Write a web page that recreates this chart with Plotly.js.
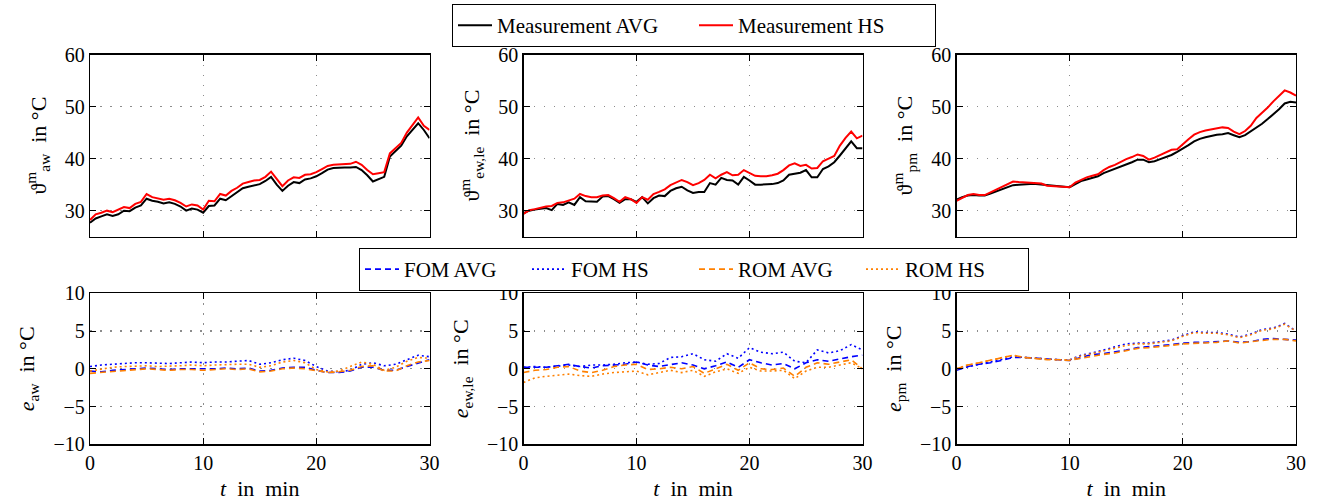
<!DOCTYPE html>
<html>
<head>
<meta charset="utf-8">
<script src="https://cdn.plot.ly/plotly-3.0.1.min.js"></script>
<style>html,body{margin:0;padding:0;background:#fff;}#chart{width:1323px;height:504px;}</style>
</head>
<body>
<div id="chart"></div>
<script>
// time axes (min)
const tMeas = [0,0.5,1,1.5,2,2.5,3,3.5,4,4.5,5,5.5,6,6.5,7,7.5,8,8.5,9,9.5,10,10.5,11,11.5,12,12.5,13,13.5,14,14.5,15,15.5,16,16.5,17,17.5,18,18.5,19,19.5,20,20.5,21,21.5,22,22.5,23,23.5,24,24.5,25,25.5,26,26.5,27,27.5,28,28.5,29,29.5,30];
const tErr = [0,1,2,3,4,5,6,7,8,9,10,11,12,13,14,15,16,17,18,19,20,21,22,23,24,25,26,27,28,29,30];

// measured temperatures (°C)
const awAvg = [27.7,28.5,28.9,29.3,29.0,29.3,30.0,29.9,30.6,31.0,32.3,31.9,31.7,31.4,31.6,31.3,30.8,30.0,30.4,30.2,29.6,30.9,31.0,32.3,32.0,32.8,33.6,34.3,34.6,34.9,35.1,35.7,36.5,35.0,33.8,34.8,35.5,35.3,36.0,36.2,36.6,37.2,37.9,38.2,38.3,38.3,38.3,38.4,37.8,36.8,35.6,36.0,36.5,40.4,41.4,42.5,44.3,45.5,46.8,45.5,43.9];
const awHs  = [28.2,29.3,29.6,30.0,29.7,30.2,30.7,30.5,31.3,31.7,33.2,32.6,32.4,32.1,32.3,32.0,31.5,30.8,31.2,31.0,30.2,31.9,31.8,33.2,32.9,33.8,34.4,35.2,35.5,35.8,35.9,36.5,37.5,36.0,34.7,35.8,36.4,36.3,36.9,37.0,37.4,38.0,38.6,38.8,38.9,39.0,39.0,39.4,38.8,37.8,37.0,37.2,37.4,41.0,42.0,43.0,45.0,46.5,47.9,46.3,45.5];
const ewAvg = [29.5,30.0,30.2,30.3,30.5,30.1,31.3,31.1,31.6,31.1,32.6,31.8,31.7,31.7,32.7,32.8,32.2,31.5,32.2,32.2,31.7,32.6,31.4,32.4,32.9,32.8,33.8,34.3,34.6,33.9,33.4,33.6,33.6,35.3,35.0,36.3,35.9,35.8,35.0,36.5,35.8,35.0,35.0,35.0,35.1,35.3,35.8,36.9,37.1,37.3,37.8,36.4,36.4,38.0,38.5,39.3,40.6,42.0,43.3,42.0,42.0];
const ewHs  = [29.4,30.1,30.3,30.6,30.8,30.9,31.5,31.6,31.9,32.3,33.2,32.8,32.6,32.6,32.9,33.0,32.4,31.7,32.6,32.2,31.5,32.6,32.1,33.2,33.6,34.1,34.9,35.4,35.9,35.5,34.9,35.3,35.9,36.9,36.2,36.9,37.4,36.8,36.9,37.8,37.3,36.7,36.6,36.6,36.8,37.1,37.8,38.7,39.1,38.6,38.8,38.1,38.2,39.5,40.0,40.5,42.5,44.0,45.2,43.9,44.4];
const pmAvg = [32.1,32.6,32.9,33.0,32.9,32.9,33.3,33.7,34.2,34.6,34.9,35.0,35.1,35.1,35.1,35.0,34.8,34.7,34.6,34.6,34.5,35.1,35.7,36.0,36.3,36.6,37.2,37.6,38.0,38.4,38.8,39.3,39.8,39.8,39.3,39.5,39.9,40.3,40.7,41.3,41.9,42.6,43.3,43.8,44.1,44.4,44.6,44.7,44.9,44.5,44.1,44.5,45.2,46.0,46.7,47.6,48.5,49.5,50.6,50.9,50.8];
const pmHs  = [31.9,32.5,33.0,33.2,33.0,33.0,33.5,34.0,34.5,35.0,35.6,35.5,35.4,35.4,35.3,35.2,34.8,34.7,34.6,34.5,34.5,35.4,35.9,36.4,36.7,37.0,37.8,38.4,38.8,39.4,39.9,40.3,40.8,40.5,39.8,40.2,40.7,41.3,41.7,41.8,42.8,43.7,44.6,45.1,45.4,45.6,45.9,46.0,45.9,45.2,44.7,45.3,46.3,47.8,48.8,49.8,51.0,52.0,53.1,52.7,52.1];

// errors (°C)
const awFomAvg = [-0.3,-0.4,-0.2,-0.1,0.0,0.1,0.0,-0.1,0.0,0.0,-0.1,0.0,0.1,0.0,0.1,-0.3,-0.2,0.1,0.2,0.2,-0.2,-0.5,-0.5,-0.3,0.2,0.2,-0.2,-0.2,0.3,0.8,1.2];
const awFomHs  = [0.3,0.5,0.6,0.7,0.8,0.8,0.7,0.7,0.8,0.9,0.8,0.9,0.9,1.0,1.1,0.6,0.8,1.2,1.4,1.1,0.3,-0.3,-0.4,-0.2,0.6,0.8,0.4,0.6,1.2,1.8,1.6];
const awRomAvg = [-0.6,-0.5,-0.3,-0.2,-0.1,0.0,-0.1,-0.2,-0.1,-0.1,-0.2,-0.1,0.0,-0.1,0.0,-0.4,-0.3,0.0,0.1,0.0,-0.3,-0.5,-0.4,-0.2,0.3,0.4,-0.3,-0.3,0.4,0.9,1.1];
const awRomHs  = [-0.3,0.0,0.2,0.3,0.4,0.4,0.3,0.3,0.4,0.5,0.4,0.5,0.6,0.6,0.6,0.2,0.4,0.9,1.1,0.8,-0.1,-0.4,-0.3,0.3,0.9,0.6,-0.2,0.2,1.0,1.5,1.4];
const ewFomAvg = [0.2,0.2,0.2,0.4,0.6,0.3,0.1,0.4,0.5,0.6,0.9,0.5,0.3,0.6,0.8,0.5,0.0,0.4,0.9,0.2,1.2,0.8,0.5,0.7,0.0,0.8,1.2,1.0,1.3,1.6,1.8];
const ewFomHs  = [0.2,0.3,0.2,0.4,0.5,0.3,0.5,0.5,0.6,0.8,0.9,0.6,0.7,1.5,1.6,2.0,1.2,1.0,2.0,1.4,2.8,2.2,2.0,2.2,1.0,0.8,2.5,2.1,2.4,3.2,2.5];
const ewRomAvg = [-0.5,-0.2,-0.1,0.2,0.3,-0.3,-0.5,-0.2,0.3,0.5,0.6,-0.1,0.0,0.2,0.0,0.3,-0.6,0.0,0.6,-0.2,0.8,0.0,-0.1,0.1,-1.0,0.2,0.8,0.6,0.9,1.2,0.0];
const ewRomHs  = [-1.8,-1.2,-1.0,-0.8,-0.7,-0.9,-1.0,-0.7,-0.5,-0.4,-0.3,-0.8,-0.5,-0.2,-0.5,-0.2,-1.0,-0.4,0.0,-0.6,0.2,-0.3,-0.3,-0.2,-1.3,-0.3,0.2,0.2,0.5,0.8,0.0];
const pmFomAvg = [-0.2,0.3,0.6,0.8,1.1,1.5,1.5,1.4,1.3,1.2,1.1,1.5,1.9,2.0,2.3,2.5,2.8,2.9,3.0,3.2,3.4,3.5,3.5,3.6,3.7,3.5,3.6,3.9,4.0,3.9,3.8];
const pmFomHs  = [-0.1,0.3,0.6,0.9,1.2,1.6,1.5,1.4,1.3,1.2,1.2,1.8,2.1,2.5,2.9,3.3,3.4,3.4,3.6,3.8,4.4,4.9,4.8,4.8,4.6,4.2,4.6,5.2,5.4,6.0,5.0];
const pmRomAvg = [0.0,0.5,0.8,1.1,1.4,1.8,1.5,1.3,1.2,1.2,1.1,1.4,1.7,1.9,2.1,2.4,2.7,2.8,2.9,3.1,3.3,3.4,3.5,3.5,3.7,3.4,3.6,3.8,3.9,3.9,3.7];
const pmRomHs  = [0.0,0.5,0.8,1.1,1.4,1.8,1.5,1.4,1.3,1.2,1.2,1.7,2.0,2.4,2.8,3.1,3.3,3.3,3.5,3.7,4.3,4.8,4.7,4.7,4.5,4.1,4.5,5.1,5.3,5.9,5.0];

const topTicks = [30,40,50,60];
const botTicks = [-10,-5,0,5,10];
const xTicks = [0,10,20,30];
const yTitlesTop = ['ϑ<sup>m</sup><sub>aw</sub>  in °C','ϑ<sup>m</sup><sub>ew,le</sub>  in °C','ϑ<sup>m</sup><sub>pm</sub>  in °C'];
const yTitlesBot = ['<i>e</i><sub>aw</sub>  in °C','<i>e</i><sub>ew,le</sub>  in °C','<i>e</i><sub>pm</sub>  in °C'];
const xTitle = '<i>t</i>  in  min';

const BLUE = 'rgb(0,0,255)', ORANGE = 'rgb(255,128,0)', RED = 'rgb(255,0,0)', BLACK = 'rgb(0,0,0)';
const FONT = 'Liberation Serif, DejaVu Serif, serif';
const FS = 20, FT = 22, FL = 21;

const meas = [[awAvg, awHs], [ewAvg, ewHs], [pmAvg, pmHs]];
const errs = [[awFomAvg, awFomHs, awRomAvg, awRomHs],[ewFomAvg, ewFomHs, ewRomAvg, ewRomHs],[pmFomAvg, pmFomHs, pmRomAvg, pmRomHs]];

const traces = [];
for (let i = 0; i < 3; i++) {
  const xa = 'x' + (i === 0 ? '' : (i + 1));
  const ya = 'y' + (i === 0 ? '' : (i + 1));
  traces.push({x: tMeas, y: meas[i][0], xaxis: xa, yaxis: ya, mode: 'lines', name: 'Measurement AVG', legend: 'legend', showlegend: i === 0, line: {color: BLACK, width: 2}});
  traces.push({x: tMeas, y: meas[i][1], xaxis: xa, yaxis: ya, mode: 'lines', name: 'Measurement HS', legend: 'legend', showlegend: i === 0, line: {color: RED, width: 2}});
}
const errNames = ['FOM AVG','FOM HS','ROM AVG','ROM HS'];
const errStyles = [{color: BLUE, dash: '6px,4px'},{color: BLUE, dash: '2px,3px'},{color: ORANGE, dash: '6px,4px'},{color: ORANGE, dash: '2px,3px'}];
for (let i = 0; i < 3; i++) {
  const xa = 'x' + (i + 4), ya = 'y' + (i + 4);
  for (let k = 0; k < 4; k++) {
    traces.push({x: tErr, y: errs[i][k], xaxis: xa, yaxis: ya, mode: 'lines', name: errNames[k], legend: 'legend2', showlegend: i === 0,
      line: {color: errStyles[k].color, dash: errStyles[k].dash, width: 1.6}});
  }
}

const W = 1323, H = 504;
const xDom = [[90/W, 429.5/W],[523.5/W, 862.5/W],[956.5/W, 1296/W]];
const yTop = [1 - 236.7/H, 1 - 54.5/H];
const yBot = [1 - 444.3/H, 1 - 293.3/H];
const GRID = 'rgb(140,140,140)';

function xAxis(dom, anchor, labels) {
  return {domain: dom, anchor: anchor, range: [0, 30], tickvals: xTicks, showticklabels: labels,
    ticks: 'inside', ticklen: 6, tickcolor: BLACK, showline: true, linecolor: BLACK, linewidth: 1.2, mirror: 'ticks',
    showgrid: true, gridcolor: GRID, griddash: '1.5px,8.5px', gridwidth: 1.2, zeroline: false,
    tickfont: {family: FONT, size: FS, color: BLACK}, automargin: false,
    title: labels ? {text: xTitle, font: {family: FONT, size: FT, color: BLACK}, standoff: 8} : {text: ''}};
}
function yAxis(dom, anchor, range, ticks, title) {
  return {domain: dom, anchor: anchor, range: range, tickvals: ticks,
    ticks: 'inside', ticklen: 6, tickcolor: BLACK, showline: true, linecolor: BLACK, linewidth: 1.2, mirror: 'ticks',
    showgrid: true, gridcolor: GRID, griddash: '1.5px,8.5px', gridwidth: 1.2, zeroline: false,
    tickfont: {family: FONT, size: FS, color: BLACK}, automargin: false,
    title: {text: title, font: {family: FONT, size: FT, color: BLACK}, standoff: 12}};
}

const layout = {
  width: W, height: H, margin: {l: 0, r: 0, t: 0, b: 0},
  paper_bgcolor: '#fff', plot_bgcolor: '#fff',
  font: {family: FONT, size: FS, color: BLACK},
  legend: {x: 694/W, y: 1 - 4/H, xanchor: 'center', yanchor: 'top', orientation: 'h', entrywidth: 192, itemwidth: 34,
    bordercolor: BLACK, borderwidth: 1, bgcolor: '#fff', font: {family: FONT, size: FL, color: BLACK}},
  legend2: {x: 694/W, y: 1 - 248/H, xanchor: 'center', yanchor: 'top', orientation: 'h', entrywidth: 118, itemwidth: 34,
    bordercolor: BLACK, borderwidth: 1, bgcolor: '#fff', font: {family: FONT, size: FL, color: BLACK}},
  showlegend: true
};
for (let i = 0; i < 3; i++) {
  const sfx = i === 0 ? '' : String(i + 1);
  layout['xaxis' + sfx] = xAxis(xDom[i], 'y' + sfx, false);
  layout['yaxis' + sfx] = yAxis(yTop, 'x' + sfx, [25, 60], topTicks, yTitlesTop[i]);
  layout['xaxis' + (i + 4)] = xAxis(xDom[i], 'y' + (i + 4), true);
  layout['yaxis' + (i + 4)] = yAxis(yBot, 'x' + (i + 4), [-10, 10], botTicks, yTitlesBot[i]);
}

Plotly.newPlot('chart', traces, layout, {staticPlot: true, displayModeBar: false});
</script>
</body>
</html>
